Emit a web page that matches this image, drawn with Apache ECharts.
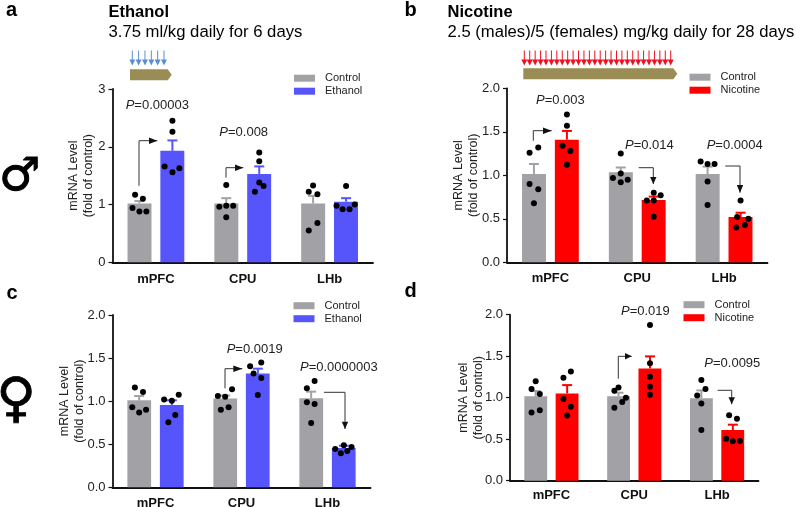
<!DOCTYPE html>
<html><head><meta charset="utf-8">
<style>html,body{margin:0;padding:0;background:#fff}#c{width:796px;height:507px}</style>
<script src="https://cdn.jsdelivr.net/npm/echarts@6/dist/echarts.min.js"></script>
</head><body><div id="c"></div>
<script>
const regions = ['mPFC', 'CPU', 'LHb'];

// means and SEM; dots are [value, sideways jitter as a fraction of a category]
const aControlMean = [1.02, 1.02, 1.02];
const aControlErr = [0.04, 0.09, 0.13];
const aEthanolMean = [1.93, 1.53, 1.05];
const aEthanolErr = [0.18, 0.13, 0.06];
const aControlDots = [
  [[1.17,-.05],[1.10,.04],[.94,-.08],[.88,0],[.88,.08]],
  [[1.34,0],[.96,-.08],[.98,0],[.98,.08],[.78,0]],
  [[1.33,0],[1.22,-.05],[1.18,.05],[.68,.05],[.55,-.05]]];
const aEthanolDots = [
  [[2.45,0],[2.26,0],[1.66,-.09],[1.56,0],[1.63,.08]],
  [[1.90,0],[1.75,0],[1.38,0],[1.32,.05],[1.22,-.05]],
  [[1.32,0],[.98,-.11],[.92,-.04],[.92,.04],[1.0,.10]]];

const bControlMean = [1.015, 1.035, 1.015];
const bControlErr = [0.115, 0.055, 0.085];
const bNicotineMean = [1.41, 0.715, 0.52];
const bNicotineErr = [0.10, 0.04, 0.05];
const bControlDots = [
  [[1.32,.05],[1.26,-.05],[.90,-.05],[.84,.05],[.68,0]],
  [[1.25,0],[.97,-.09],[1.02,0],[.92,0],[.95,.08]],
  [[1.16,-.08],[1.13,0],[1.13,.08],[.93,0],[.66,0]]];
const bNicotineDots = [
  [[1.70,0],[1.57,0],[1.34,-.05],[1.28,.04],[1.12,0]],
  [[.80,0],[.77,.08],[.71,-.08],[.71,0],[.525,0]],
  [[.71,0],[.52,-.04],[.50,.09],[.43,.05],[.40,-.05]]];

const cControlMean = [1.01, 1.03, 1.033];
const cControlErr = [0.05, 0.035, 0.077];
const cEthanolMean = [0.955, 1.32, 0.456];
const cEthanolErr = [0.055, 0.057, 0.027];
const cControlDots = [
  [[1.157,-.05],[1.106,.045],[.93,-.08],[.867,0],[.90,.08]],
  [[1.137,.08],[1.06,-.085],[1.05,0],[.93,.04],[.90,-.05]],
  [[1.234,.04],[1.15,-.05],[.986,-.05],[.967,.04],[.747,0]]];
const cEthanolDots = [
  [[1.02,-.09],[1.005,0],[1.075,.08],[.84,.04],[.755,-.04]],
  [[1.45,.04],[1.405,-.09],[1.32,-.05],[1.27,.04],[1.07,0]],
  [[.487,0],[.468,.09],[.42,.04],[.445,-.10],[.395,-.035]]];

const dControlMean = [1.016, 1.016, 0.992];
const dControlErr = [0.064, 0.044, 0.096];
const dNicotineMean = [1.052, 1.353, 0.61];
const dNicotineErr = [0.10, 0.145, 0.065];
const dControlDots = [
  [[1.197,0],[1.104,-.05],[1.044,.05],[.85,.05],[.823,-.05]],
  [[1.124,0],[1.084,-.05],[1.0,.09],[.948,.045],[.88,-.05]],
  [[1.213,0],[1.104,.05],[1.028,-.05],[.93,0],[.61,0]]];
const dNicotineDots = [
  [[1.317,.045],[1.24,-.045],[.984,-.045],[.89,.045],[.787,0]],
  [[1.875,0],[1.414,0],[1.253,0],[1.133,0],[1.036,0]],
  [[.79,-.045],[.747,.05],[.506,-.08],[.474,0],[.478,.085]]];

const GRAY = '#a2a2a6', BLUE = '#5555fb', RED = '#ff0000', OLIVE = '#998d55', INK = '#222';
const FONT = '"Liberation Sans", Arial, sans-serif';
const BAR_OFFSET = 0.19;

const option = {animation:false, backgroundColor:'#fff', textStyle:{fontFamily:FONT},
  grid:[], xAxis:[], yAxis:[], series:[], legend:[], graphic:[]};

function panel(g) {
  const i = option.grid.length, cat = i*2, val = i*2+1;
  option.grid.push({left:g.left, width:g.width, top:g.top, height:g.height, outerBoundsMode:'none'});
  option.xAxis.push({type:'category', gridIndex:i, data:regions,
    axisLine:{onZero:false, lineStyle:{color:'#111',width:1.8}}, axisTick:{show:false},
    axisLabel:{margin:g.labelMargin, fontSize:13, fontWeight:'bold', color:'#111', fontFamily:FONT}});
  option.xAxis.push({type:'value', gridIndex:i, min:0, max:3, show:false});
  option.yAxis.push({type:'value', gridIndex:i, min:0, max:g.max, interval:g.step,
    name:'mRNA Level\n(fold of control)', nameLocation:'middle', nameRotate:90, nameGap:g.nameGap,
    nameMoveOverlap:false,
    nameTextStyle:{fontSize:12.5, color:INK, lineHeight:15, fontFamily:FONT},
    splitLine:{show:false},
    axisLine:{show:true, lineStyle:{color:'#111',width:1.8}},
    axisTick:{show:true, length:4, lineStyle:{color:'#111',width:1.2}},
    axisLabel:{margin:7, fontSize:13, color:INK, fontFamily:FONT,
      formatter:v => g.step < 1 ? v.toFixed(1) : String(v)}});
  const groups = [
    {name:'Control', color:GRAY, mean:g.ctlMean, err:g.ctlErr, dots:g.ctlDots, side:-1},
    {name:g.drug, color:g.color, mean:g.drugMean, err:g.drugErr, dots:g.drugDots, side:1}];
  groups.forEach(s => {
    option.series.push({type:'bar', name:s.name, xAxisIndex:cat, yAxisIndex:i, data:s.mean,
      barWidth:'27.6%', barGap:'37%', itemStyle:{color:s.color}, z:2});
  });
  groups.forEach(s => {
    option.series.push({type:'custom', xAxisIndex:val, yAxisIndex:i, z:3, clip:false,
      encode:{x:0,y:[1,2]},
      data:s.mean.map((m,k) => [k+.5+s.side*BAR_OFFSET, m, m+s.err[k]]),
      renderItem:(params, api) => {
        const a = api.coord([api.value(0), api.value(1)]), b = api.coord([api.value(0), api.value(2)]);
        const st = {stroke:s.color, lineWidth:2, fill:null};
        return {type:'group', children:[
          {type:'line', shape:{x1:a[0],y1:a[1],x2:b[0],y2:b[1]}, style:st},
          {type:'line', shape:{x1:b[0]-5,y1:b[1],x2:b[0]+5,y2:b[1]}, style:st}]};
      }});
    option.series.push({type:'scatter', xAxisIndex:val, yAxisIndex:i, z:4, symbolSize:6,
      itemStyle:{color:'#000', opacity:1},
      data:s.dots.flatMap((list,k) => list.map(d => [k+.5+s.side*BAR_OFFSET+d[1], d[0]]))});
  });
  option.legend.push({data:['Control',g.drug].map(n => ({name:n, icon:'rect'})),
    orient:'vertical', left:g.legendX, top:g.legendY, itemWidth:21, itemHeight:7, itemGap:2,
    selectedMode:false, padding:0, textStyle:{fontSize:11, color:INK, padding:[0,0,0,5], fontFamily:FONT}});
}

panel({left:112.5,width:260.5,top:89,height:173.3,max:3,step:1,nameGap:16,labelMargin:10.5,drug:'Ethanol',color:BLUE,
  ctlMean:aControlMean,ctlErr:aControlErr,ctlDots:aControlDots,
  drugMean:aEthanolMean,drugErr:aEthanolErr,drugDots:aEthanolDots,
  legendX:294,legendY:72.7});
panel({left:507,width:260.5,top:88.3,height:174,max:2,step:.5,nameGap:25.8,labelMargin:10,drug:'Nicotine',color:RED,
  ctlMean:bControlMean,ctlErr:bControlErr,ctlDots:bControlDots,
  drugMean:bNicotineMean,drugErr:bNicotineErr,drugDots:bNicotineDots,
  legendX:689.5,legendY:71.7});
panel({left:112.5,width:258,top:315,height:172.3,max:2,step:.5,nameGap:25.5,labelMargin:10,drug:'Ethanol',color:BLUE,
  ctlMean:cControlMean,ctlErr:cControlErr,ctlDots:cControlDots,
  drugMean:cEthanolMean,drugErr:cEthanolErr,drugDots:cEthanolDots,
  legendX:293.5,legendY:300.2});
panel({left:510,width:248.5,top:314.7,height:166,max:2,step:.5,nameGap:24.2,labelMargin:8.5,drug:'Nicotine',color:RED,
  ctlMean:dControlMean,ctlErr:dControlErr,ctlDots:dControlDots,
  drugMean:dNicotineMean,drugErr:dNicotineErr,drugDots:dNicotineDots,
  legendX:683.5,legendY:299.2});

const G = option.graphic;
function label(text,x,y,size,bold,family,stroke) {
  G.push({type:'text', x, y, z:10, style:{text, fill:'#000', fontSize:size, fontWeight:bold?'bold':'normal',
    fontFamily:family||FONT, verticalAlign:'middle', stroke:stroke?'#000':null, lineWidth:stroke||0}});
}
function pval(p,x,y) {
  G.push({type:'text', x, y, z:10, style:{text:'{i|P}='+p, fill:'#222', fontSize:13, fontFamily:FONT,
    verticalAlign:'middle', rich:{i:{fontStyle:'italic',fontSize:13,fontFamily:FONT,fill:'#222'}}}});
}
function arrow(points, tip, color) {
  const last = points[points.length-1];
  G.push({type:'polyline', z:10, shape:{points:points.concat([tip])}, style:{stroke:color||'#333',lineWidth:1,fill:null}});
  const horiz = tip[1] === last[1];
  const head = horiz
    ? [[last[0],last[1]-3.2],[last[0],last[1]+3.2],tip]
    : [[last[0]-3.2,last[1]],[last[0]+3.2,last[1]],tip];
  G.push({type:'polygon', z:10, shape:{points:head}, style:{fill:color||'#111'}});
}
function doses(n,x0,x1,color) {
  for (let k=0;k<n;k++) {
    const x = x0+(x1-x0)*k/(n-1);
    G.push({type:'line', z:9, shape:{x1:x,y1:50.5,x2:x,y2:61}, style:{stroke:color,lineWidth:1}});
    G.push({type:'polygon', z:9, shape:{points:[[x-3,59.5],[x+3,59.5],[x,65.5]]}, style:{fill:color}});
  }
}
function track(x0,x1,y0,y1) {
  G.push({type:'polygon', z:9, shape:{points:[[x0,y0],[x1-4,y0],[x1,(y0+y1)/2],[x1-4,y1],[x0,y1]]}, style:{fill:OLIVE}});
}

label('a',6,10,20,true); label('b',404.5,10,20,true); label('c',6.5,293,20,true); label('d',404.5,291,20,true);
label('Ethanol',108.5,12.5,16.5,true); label('3.75 ml/kg daily for 6 days',108.5,32.5,16.7);
label('Nicotine',447.5,12.5,16.5,true); label('2.5 (males)/5 (females) mg/kg daily for 28 days',447.5,32,16.65);
label('♂',-1,178,46,true,'"DejaVu Sans"',1); label('♀',-3.5,401.7,54,true,'"DejaVu Sans"',0.8);

doses(6,132.3,164,'#5b8fd0'); track(130,171.7,69.3,80.3);
doses(28,524.3,670.7,'#f01020'); track(523.3,677.3,68.3,79.3);

pval('0.00003',125.7,105); pval('0.008',219.3,132.7);
pval('0.003',536,100.7); pval('0.014',625,145.7); pval('0.0004',706.7,145.7);
pval('0.0019',226.7,349); pval('0.0000003',300,367);
pval('0.019',621,311.7); pval('0.0095',704.3,363.3);

arrow([[139,185.7],[139,140.7],[149,140.7]],[157.3,140.7]);
arrow([[226,177.7],[226,167.7],[235,167.7]],[243.3,167.7]);
arrow([[533.3,140.7],[533.3,130.7],[543,130.7]],[551.7,130.7]);
arrow([[638.7,167.7],[653.3,167.7],[653.3,177]],[653.3,184]);
arrow([[725.3,166],[740,166],[740,185]],[740,192.7]);
arrow([[225,388.3],[225,368.7],[233.3,368.7]],[242.3,368.7]);
arrow([[324,392.3],[345,392.3],[345,421.7]],[345,429]);
arrow([[618.3,378.7],[618.3,356.3],[625,356.3]],[631.7,356.3]);
arrow([[717.7,390.3],[731.7,390.3],[731.7,397.3]],[731.7,404.3]);

echarts.init(document.getElementById('c'),null,{renderer:'canvas'}).setOption(option);
</script></body></html>
